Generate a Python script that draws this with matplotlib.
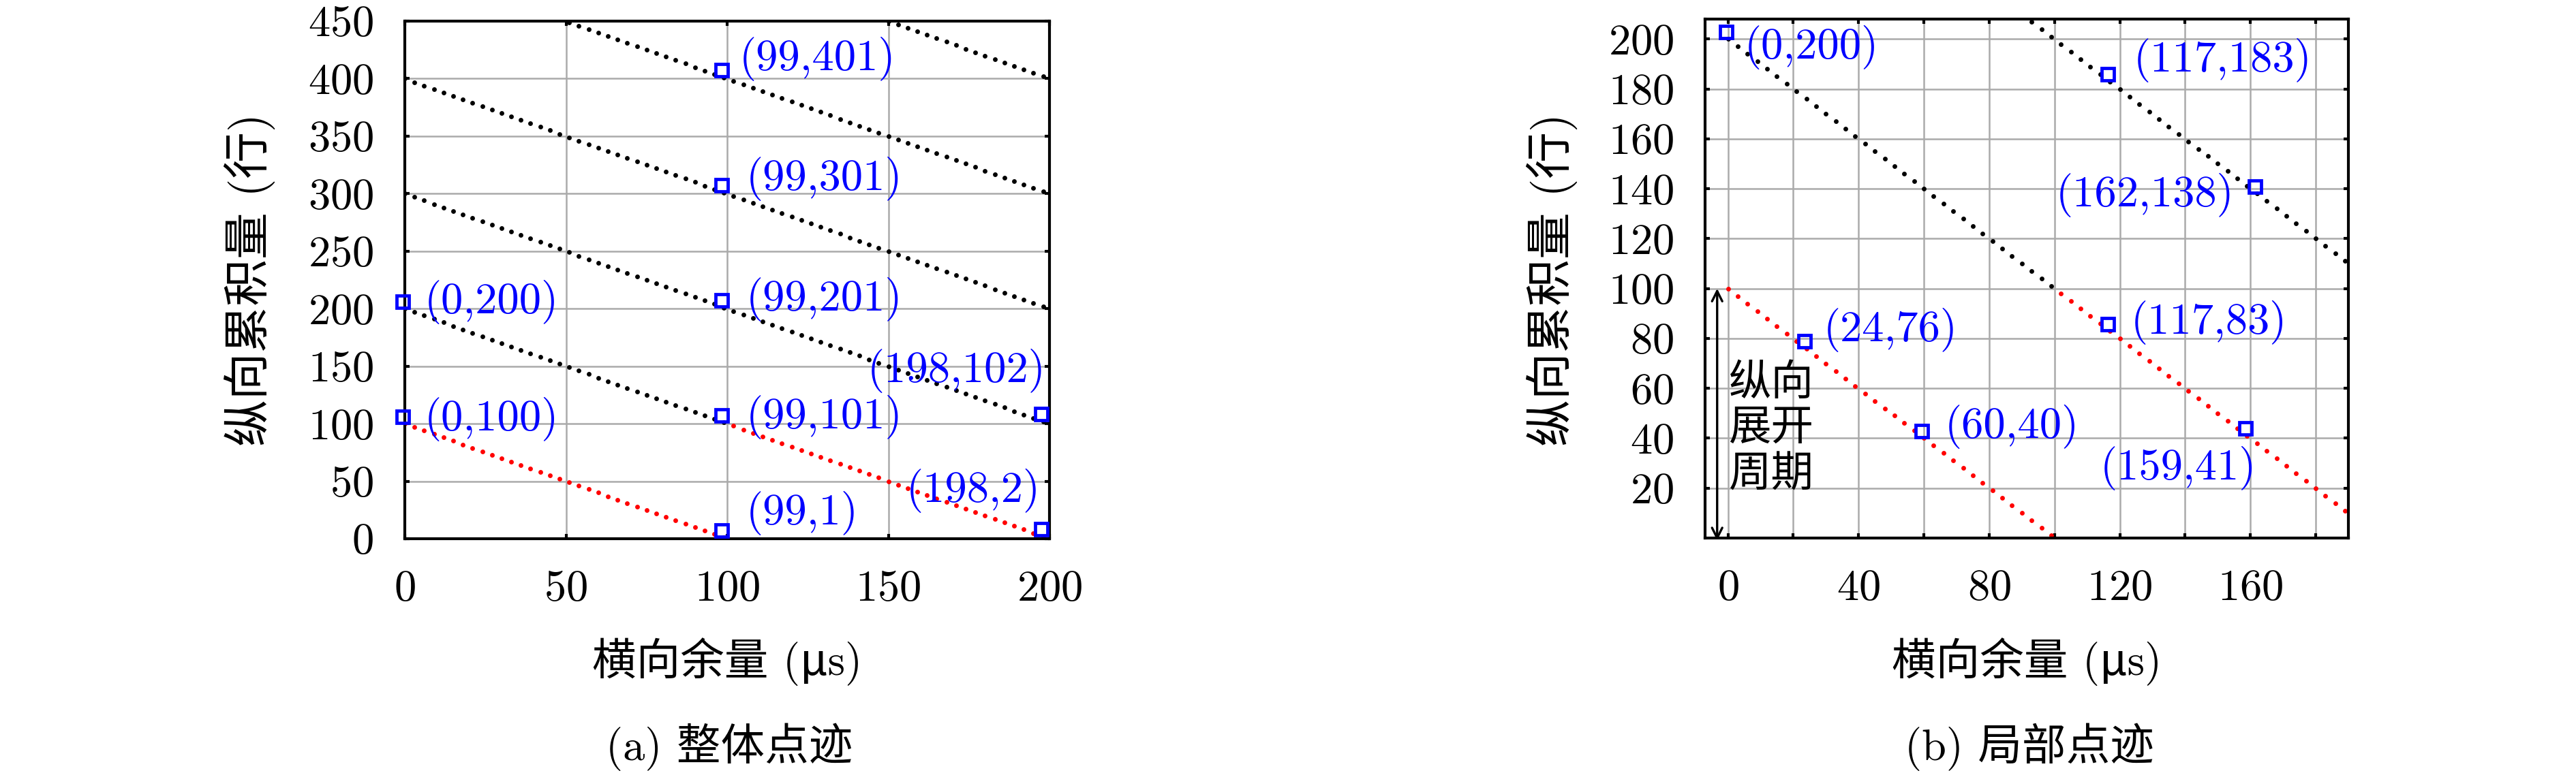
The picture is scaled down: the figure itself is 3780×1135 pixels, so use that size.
import numpy as np
import matplotlib.pyplot as plt
from matplotlib.transforms import offset_copy

plt.rcParams['font.family'] = ['cmr10', 'Noto Sans CJK SC', 'DejaVu Serif']
plt.rcParams['mathtext.fontset'] = 'cm'
plt.rcParams['axes.formatter.use_mathtext'] = True
plt.rcParams['font.size'] = 15.5

# 横向余量采样 (每 3 us 一个点), 各条斜线的截距 (纵向累积量)
slot_x = np.arange(0, 199, 3)
intercepts = [100, 200, 300, 400, 500, 600]
unfold_period = 100

# (a) 整体点迹 标注点
left_px = [0, 0, 99, 99, 99, 99, 99, 198, 198]
left_py = [200, 100, 401, 301, 201, 101, 1, 102, 2]
# (b) 局部点迹 标注点
right_px = [0, 117, 162, 24, 117, 60, 159]
right_py = [200, 183, 138, 76, 83, 40, 41]

# 标注文字偏移 (points) 与对齐方式
left_offs = [(7, 2.4), (7, 1.6), (5.3, 6.5), (7.7, 4.8), (7.7, 2.9),
             (7.7, 1.9), (7.7, 8.6), (1, 17.8), (-1, 16)]
left_ha = ['left'] * 7 + ['right'] * 2
right_offs = [(5.8, -2.9), (8.2, 7.4), (-8, -0.5), (6, 6.5), (7.4, 2.9),
              (7.4, 4), (3.4, -11.5)]
right_ha = ['left', 'left', 'right', 'left', 'left', 'left', 'right']

fig = plt.figure(figsize=(12.6, 1135 / 300), dpi=300)
ax1 = fig.add_axes([594 / 3780, 1 - 791 / 1135, 946 / 3780, 760 / 1135])
ax2 = fig.add_axes([2502 / 3780, 1 - 790 / 1135, 944 / 3780, 762 / 1135])


def draw_lines(ax):
    for c in intercepts:
        y = c - slot_x
        low = (y <= unfold_period) & (y >= 0)
        high = y > unfold_period
        ax.plot(slot_x[high], y[high], ls='none', marker='o', ms=1.65,
                color='black', mew=0)
        ax.plot(slot_x[low], y[low], ls='none', marker='o', ms=1.65,
                color='red', mew=0)


def draw_marks(ax, px, py, offs, has):
    tr = offset_copy(ax.transData, fig=fig, x=-0.7, y=2.5, units='points')
    ax.plot(px, py, ls='none', marker='s', ms=4.4, mfc='none', mec='blue',
            mew=1.15, transform=tr, clip_on=False, zorder=5)
    for x, y, (dx, dy), ha in zip(px, py, offs, has):
        ax.annotate(f'({x},{y})', xy=(x, y), xytext=(dx, dy),
                    textcoords='offset points', ha=ha, va='center',
                    color='blue', zorder=6, annotation_clip=False)


def style(ax):
    ax.grid(True, which='both', color='#aaaaaa', lw=0.6)
    ax.tick_params(which='both', direction='in', length=1.7, width=1.0,
                   top=True, right=True, pad=11)
    for s in ax.spines.values():
        s.set_linewidth(1.0)


# (a)
draw_lines(ax1)
draw_marks(ax1, left_px, left_py, left_offs, left_ha)
ax1.set_xlim(0, 200)
ax1.set_ylim(0, 450)
ax1.set_xticks([0, 50, 100, 150, 200])
ax1.set_yticks(np.arange(0, 451, 50))
style(ax1)

# (b)
draw_lines(ax2)
draw_marks(ax2, right_px, right_py, right_offs, right_ha)
ax2.set_xlim(-7, 190)
ax2.set_ylim(0, 208)
ax2.set_xticks([0, 40, 80, 120, 160])
ax2.set_xticks([20, 60, 100, 140, 180], minor=True)
ax2.set_yticks(np.arange(20, 201, 20))
style(ax2)

ax2.annotate('', xy=(-3.3, -1), xytext=(-3.3, unfold_period),
             arrowprops=dict(arrowstyle='<->', lw=0.8, color='black',
                             shrinkA=0, shrinkB=0, mutation_scale=9),
             annotation_clip=False)
ax2.text(0.2, 43.5, '纵向\n展开\n周期', ha='left', va='center',
         fontsize=15, linespacing=1.25)

# 轴标签与子图标题
for cx, ylx in [(1067, 366), (2974, 2277)]:
    fig.text(cx / 3780, 1 - 972 / 1135, '横向余量 (μs)', ha='center', va='center')
    fig.text(ylx / 3780, 1 - 411 / 1135, '纵向累积量 (行)', ha='center',
             va='center', rotation=90, fontsize=16.5)
fig.text(1070 / 3780, 1 - 1097 / 1135, '(a) 整体点迹', ha='center', va='center')
fig.text(2978 / 3780, 1 - 1097 / 1135, '(b) 局部点迹', ha='center', va='center')

fig.savefig('out.png', dpi=300)
